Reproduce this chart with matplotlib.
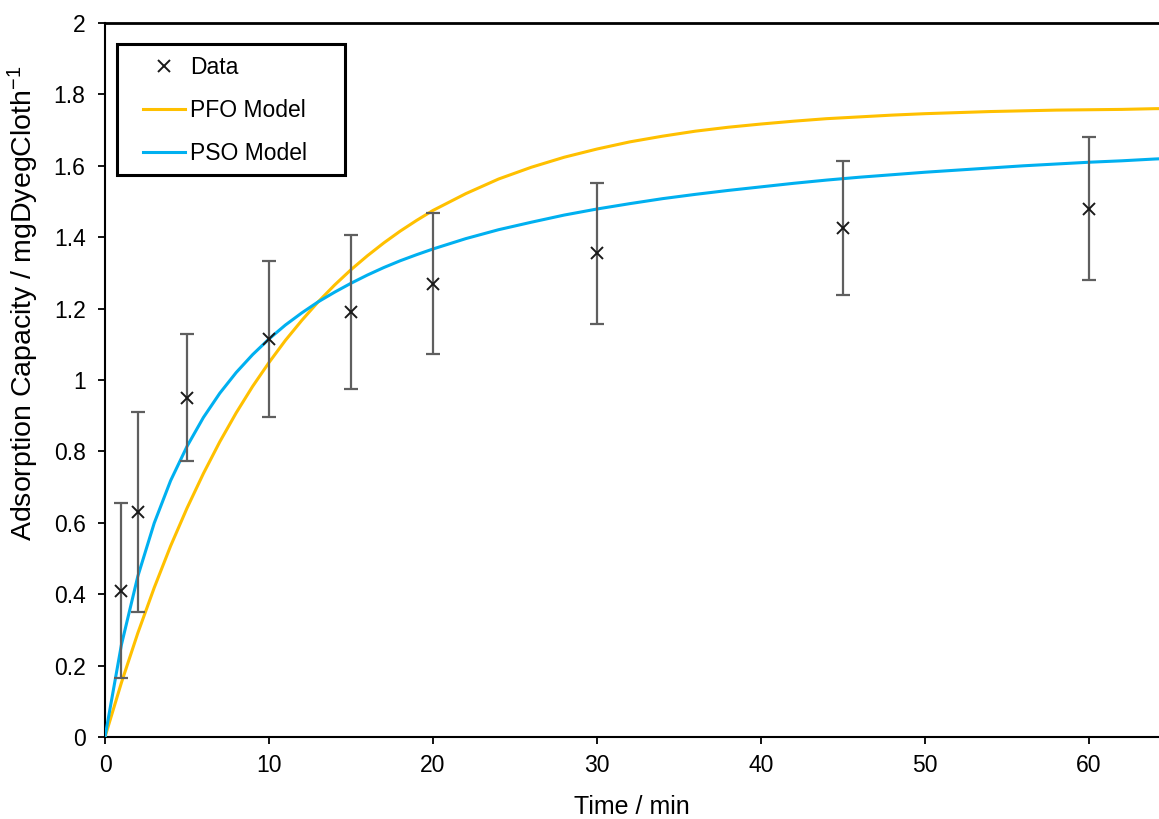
import matplotlib
matplotlib.use("Agg")
import matplotlib.pyplot as plt
from matplotlib.patches import Rectangle

# ---- data ----
data_t = [1, 2, 5, 10, 15, 20, 30, 45, 60]
data_q = [0.41, 0.63, 0.95, 1.115, 1.19, 1.27, 1.355, 1.425, 1.48]
data_err = [0.245, 0.28, 0.178, 0.218, 0.215, 0.197, 0.197, 0.188, 0.20]

model_t = [0, 1, 2, 3, 4, 5, 6, 7, 8, 9, 10, 11, 12, 13, 14, 15, 16, 17, 18, 19, 20,
           22, 24, 26, 28, 30, 32, 34, 36, 38, 40, 42, 44, 46, 48, 50, 52, 54, 56, 58,
           60, 62, 64, 66]
pfo_q = [0, 0.152, 0.291, 0.418, 0.535, 0.641, 0.738, 0.827, 0.908, 0.982, 1.049,
         1.111, 1.167, 1.219, 1.266, 1.309, 1.348, 1.384, 1.417, 1.447, 1.475,
         1.522, 1.563, 1.596, 1.624, 1.647, 1.667, 1.683, 1.697, 1.708, 1.717,
         1.725, 1.732, 1.737, 1.742, 1.746, 1.749, 1.752, 1.754, 1.756,
         1.757, 1.758, 1.760, 1.761]
pso_q = [0, 0.258, 0.450, 0.599, 0.718, 0.814, 0.895, 0.963, 1.021, 1.071, 1.115,
         1.154, 1.188, 1.219, 1.246, 1.271, 1.294, 1.315, 1.334, 1.351, 1.367,
         1.396, 1.421, 1.442, 1.462, 1.479, 1.494, 1.508, 1.520, 1.531, 1.541,
         1.551, 1.560, 1.568, 1.575, 1.582, 1.588, 1.594, 1.600, 1.605,
         1.610, 1.614, 1.619, 1.623]

x_ticks = [0, 10, 20, 30, 40, 50, 60]
y_ticks = [0, 0.2, 0.4, 0.6, 0.8, 1.0, 1.2, 1.4, 1.6, 1.8, 2.0]
y_tick_labels = ["0", "0.2", "0.4", "0.6", "0.8", "1", "1.2", "1.4", "1.6", "1.8", "2"]

plt.rcParams['font.family'] = ['Liberation Sans', 'DejaVu Sans']
plt.rcParams['mathtext.fontset'] = 'custom'
plt.rcParams['mathtext.rm'] = 'Liberation Sans'
plt.rcParams['mathtext.it'] = 'Liberation Sans:italic'

W, H = 1159, 819
fig = plt.figure(figsize=(W / 100, H / 100), dpi=100)
AX_L, AX_B, AX_W, AX_H = 105, 82, 1054, 714
ax = fig.add_axes([AX_L / W, AX_B / H, AX_W / W, AX_H / H])

PFO_C = '#FFC000'
PSO_C = '#00B0F0'

ax.plot(model_t, pfo_q, color=PFO_C, lw=2.2, label='PFO Model', zorder=3)
ax.plot(model_t, pso_q, color=PSO_C, lw=2.2, label='PSO Model', zorder=3)
ax.errorbar(data_t, data_q, yerr=data_err, fmt='none', ecolor='#5f5f5f',
            elinewidth=1.6, capsize=5, capthick=1.6, zorder=4)
ax.plot(data_t, data_q, linestyle='none', marker='x', markersize=8,
        markeredgewidth=1.4, color='#1a1a1a', label='Data', zorder=5)

ax.set_xlim(0, 64.27)
ax.set_ylim(0, 2)
ax.set_xticks(x_ticks)
ax.set_yticks(y_ticks)
ax.set_yticklabels(y_tick_labels)
ax.tick_params(axis='both', direction='out', length=5, width=1.3,
               labelsize=16.5, colors='black')
ax.tick_params(axis='x', pad=7)
ax.tick_params(axis='y', pad=9)

for s in ['left', 'bottom']:
    ax.spines[s].set_linewidth(1.5)
ax.spines['top'].set_linewidth(2.0)
ax.spines['right'].set_visible(False)

ax.set_xlabel('Time / min', fontsize=18, labelpad=13)
fig.text(23 / W, 1 - 303 / H, 'Adsorption Capacity / mgDyegCloth$^{-1}$',
         rotation=90, ha='center', va='center', fontsize=20.5)

# legend frame (pixel layout converted to axes fraction)
box_x0, box_y0, box_x1, box_y1 = 117, 44, 345, 175
ax.add_patch(Rectangle(((box_x0 - AX_L) / AX_W, (H - AX_B - box_y1) / AX_H),
                       (box_x1 - box_x0) / AX_W, (box_y1 - box_y0) / AX_H,
                       transform=ax.transAxes, facecolor='white',
                       edgecolor='black', lw=2.2, zorder=9, clip_on=False))

handles, labels = ax.get_legend_handles_labels()
order = [2, 0, 1]
leg = ax.legend([handles[i] for i in order], [labels[i] for i in order],
                loc='upper left',
                bbox_to_anchor=((143 - AX_L) / AX_W, (H - AX_B - 56) / AX_H),
                borderaxespad=0, borderpad=0, fontsize=16.5, frameon=False,
                handlelength=1.85, handletextpad=0.2, labelspacing=0.88)
leg.set_zorder(10)

fig.savefig('out.png', dpi=100)
